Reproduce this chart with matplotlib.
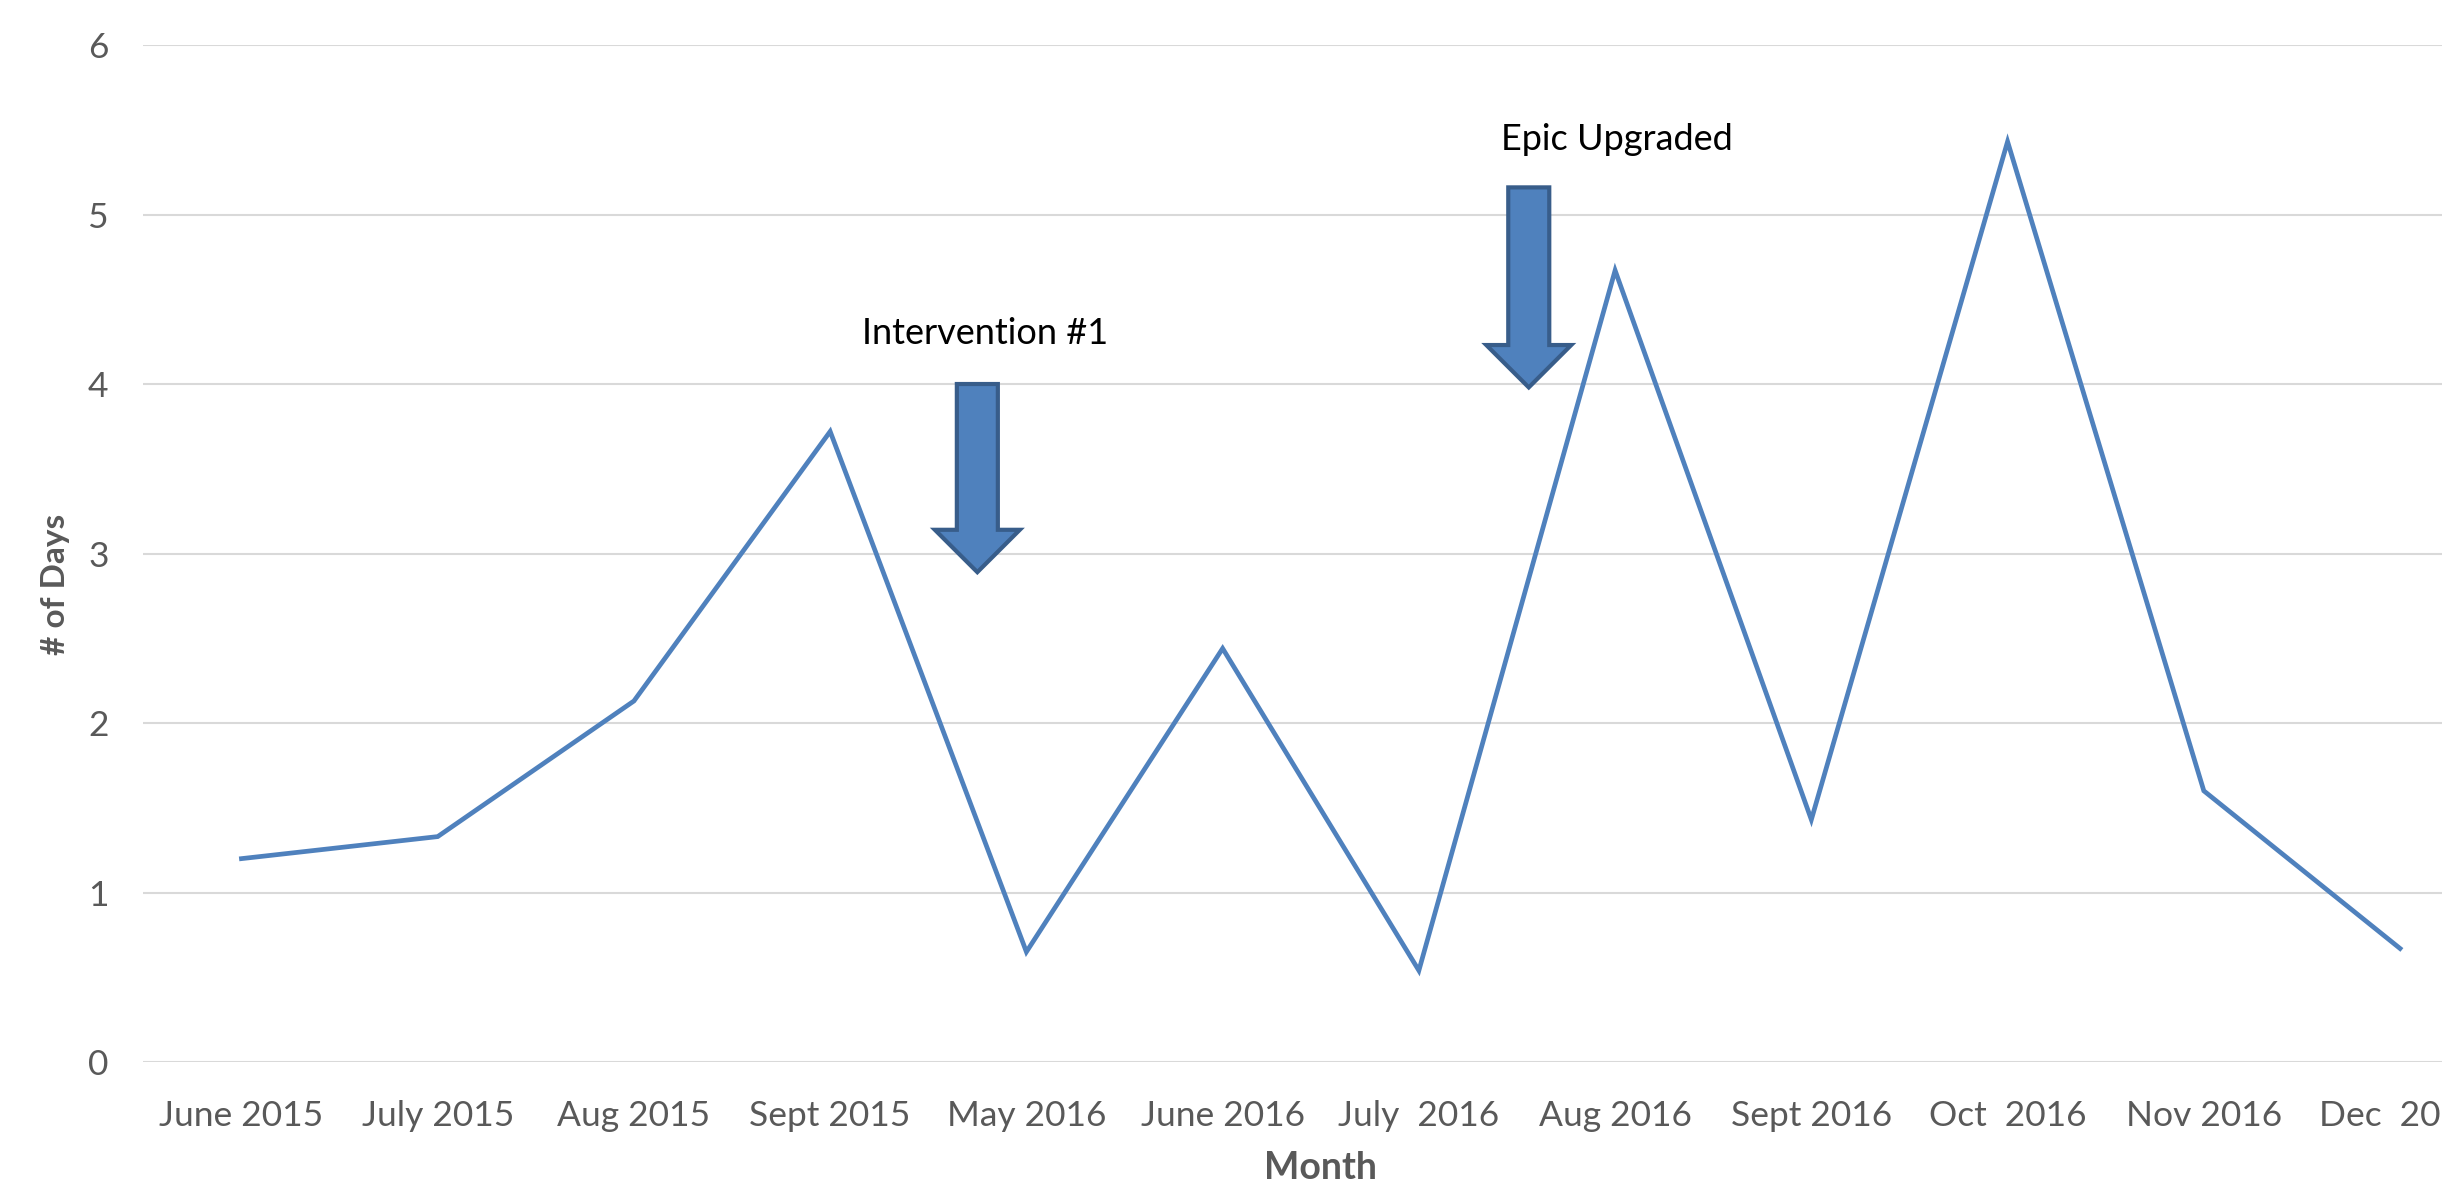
import matplotlib
matplotlib.use("Agg")
import matplotlib.pyplot as plt
from matplotlib.patches import FancyArrow

months = ["June 2015", "July 2015", "Aug 2015", "Sept 2015", "May 2016", "June 2016",
          "July  2016", "Aug 2016", "Sept 2016", "Oct  2016", "Nov 2016", "Dec  2016"]
days = [1.20, 1.33, 2.13, 3.72, 0.65, 2.44, 0.54, 4.67, 1.43, 5.43, 1.60, 0.67]

notes = ["Intervention #1", "Epic Upgraded"]
note_x = [3.79, 7.01]
note_y = [4.30, 5.44]
arrow_x = [3.75, 6.56]
arrow_top = [4.0, 5.16]
arrow_tip = [2.89, 3.98]

plt.rcParams['font.family'] = ['Lato', 'DejaVu Sans']

fig = plt.figure(figsize=(24.42, 11.84), dpi=100)
ax = fig.add_axes([0.0587, 0.103, 0.9643, 0.859])

x = list(range(len(months)))
ax.plot(x, days, color='#4F81BD', lw=3.4, solid_joinstyle='miter', zorder=3)

ax.set_xlim(-0.5, len(months) - 0.5)
ax.set_ylim(0, 6)
ax.set_yticks(range(7))
ax.set_xticks(x)
ax.set_xticklabels(months)
ax.grid(axis='y', color='#D9D9D9', lw=1.5)
ax.set_axisbelow(True)
for s in ax.spines.values():
    s.set_visible(False)
ax.tick_params(length=0, labelsize=25.5, labelcolor='#595959')
ax.tick_params(axis='x', pad=27)
ax.tick_params(axis='y', pad=25)

ax.set_ylabel('# of Days', fontsize=24, fontweight='bold', color='#595959')
ax.yaxis.set_label_coords(-0.031, 0.47)
ax.set_xlabel('Month', fontsize=27, fontweight='bold', color='#595959', labelpad=14)

# annotation arrows
for i in range(len(notes)):
    ax.text(note_x[i], note_y[i], notes[i], fontsize=26, color='black',
            ha='center', va='center')
    arr = FancyArrow(arrow_x[i], arrow_top[i], 0, arrow_tip[i] - arrow_top[i],
                     width=0.209, head_width=0.433, head_length=0.25,
                     length_includes_head=True, fc='#4F81BD', ec='#385D8A',
                     lw=3, zorder=4)
    ax.add_patch(arr)

fig.savefig('out.png', dpi=100)
